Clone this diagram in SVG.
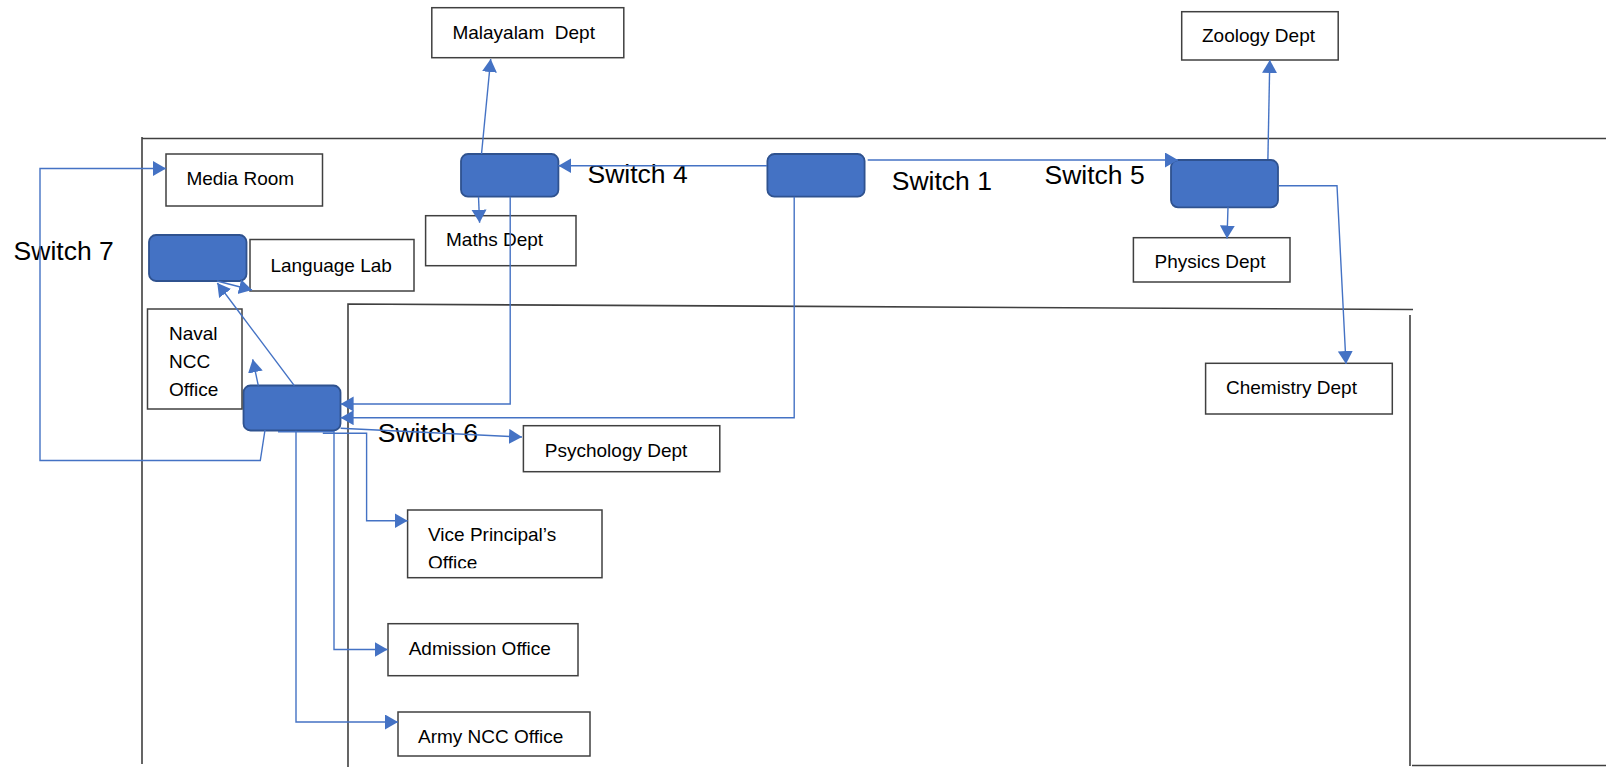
<svg xmlns="http://www.w3.org/2000/svg" width="1606" height="767" viewBox="0 0 1606 767">
<style>
.box{fill:#fff;stroke:#404040;stroke-width:1.5}
.sw{fill:#4472C4;stroke:#2F528F;stroke-width:1.8}
.wall{fill:none;stroke:#404040;stroke-width:1.6}
.lbl{font-family:"Liberation Sans",Arial,sans-serif;font-size:19px;fill:#000}
.swl{font-family:"Liberation Sans",Arial,sans-serif;font-size:26.5px;fill:#000}
.con{fill:none;stroke:#4472C4;stroke-width:1.4}
</style>
<defs>
<marker id="ah" markerUnits="userSpaceOnUse" markerWidth="14" markerHeight="16" refX="13" refY="7.5" orient="auto">
<path d="M0,0 L13,7.5 L0,15 z" fill="#4472C4"/>
</marker>
<clipPath id="vpclip"><rect x="400" y="505" width="210" height="63.3"/></clipPath>
</defs>
<rect width="1606" height="767" fill="#fff"/>
<g id="walls">
<path class="wall" d="M142,137 V764 M142,138.5 H1606"/>
<path class="wall" d="M348,767 V304 L1413,309.5"/>
<path class="wall" d="M1410,315 V766 M1412,765.5 H1606"/>
</g>
<g id="switch1"><rect class="sw" x="767.4" y="154" width="97.2" height="42.7" rx="7"/><text class="swl" x="891.8" y="190">Switch 1</text></g>
<g id="switch4"><rect class="sw" x="461" y="154" width="97.4" height="42.7" rx="7"/><text class="swl" x="587.5" y="182.7">Switch 4</text></g>
<g id="switch5"><rect class="sw" x="1171" y="160" width="107" height="47.3" rx="7"/><text class="swl" x="1044.5" y="184.3">Switch 5</text></g>
<g id="switch6"><rect class="sw" x="243.5" y="385.5" width="97" height="45" rx="7"/><text class="swl" x="377.8" y="441.7">Switch 6</text></g>
<g id="switch7"><rect class="sw" x="149" y="235" width="97.5" height="46" rx="7"/><text class="swl" x="13.6" y="260">Switch 7</text></g>
<g id="malayalam"><rect class="box" x="431.8" y="7.7" width="192" height="50"/><text class="lbl" x="452.4" y="39.3" xml:space="preserve">Malayalam  Dept</text></g>
<g id="zoology"><rect class="box" x="1181.7" y="11.7" width="156.5" height="48.3"/><text class="lbl" x="1202" y="41.7">Zoology Dept</text></g>
<g id="media"><rect class="box" x="166" y="154" width="156.5" height="52"/><text class="lbl" x="186.4" y="185">Media Room</text></g>
<g id="language"><rect class="box" x="250" y="239.5" width="164" height="51.5"/><text class="lbl" x="270.4" y="271.5">Language Lab</text></g>
<g id="maths"><rect class="box" x="425.6" y="215.7" width="150.4" height="50"/><text class="lbl" x="446" y="245.7">Maths Dept</text></g>
<g id="physics"><rect class="box" x="1133.4" y="237.7" width="156.6" height="44.3"/><text class="lbl" x="1154.6" y="268.3">Physics Dept</text></g>
<g id="naval"><rect class="box" x="147.5" y="309" width="94.5" height="100"/><text class="lbl" x="169" y="340">Naval</text><text class="lbl" x="169" y="368">NCC</text><text class="lbl" x="169" y="396">Office</text></g>
<g id="chemistry"><rect class="box" x="1205.6" y="363.3" width="186.7" height="50.7"/><text class="lbl" x="1226" y="394">Chemistry Dept</text></g>
<g id="psychology"><rect class="box" x="523.4" y="425.7" width="196.4" height="46"/><text class="lbl" x="544.8" y="457">Psychology Dept</text></g>
<g id="viceprincipal"><rect class="box" x="407.6" y="510" width="194.4" height="67.7"/><text class="lbl" x="428" y="540.5">Vice Principal’s</text><text class="lbl" x="428" y="569" clip-path="url(#vpclip)">Office</text></g>
<g id="admission"><rect class="box" x="388" y="623.7" width="190" height="52"/><text class="lbl" x="408.7" y="655">Admission Office</text></g>
<g id="army"><rect class="box" x="398" y="712" width="192" height="44"/><text class="lbl" x="418" y="742.7">Army NCC Office</text></g>
<g id="connectors">
<path class="con" marker-end="url(#ah)" d="M767,165.7 H558.4"/>
<path class="con" marker-end="url(#ah)" d="M867.7,160 H1178"/>
<path class="con" marker-end="url(#ah)" d="M481.5,154 L490.7,59"/>
<path class="con" marker-end="url(#ah)" d="M478.5,196.7 L479.6,222.7"/>
<path class="con" marker-end="url(#ah)" d="M510.2,196.7 V404 H340.6"/>
<path class="con" marker-end="url(#ah)" d="M794.2,196.7 V417.7 H340.6"/>
<path class="con" marker-end="url(#ah)" d="M1267.9,159 L1269.8,60"/>
<path class="con" marker-end="url(#ah)" d="M1228,207.3 L1227,238.5"/>
<path class="con" marker-end="url(#ah)" d="M1279,185.7 H1337 L1346,364"/>
<path class="con" marker-end="url(#ah)" d="M217,281 L252,290"/>
<path class="con" marker-end="url(#ah)" d="M294.3,385.7 L217.3,283"/>
<path class="con" marker-end="url(#ah)" d="M258.3,385.7 L252.7,359.3"/>
<path class="con" marker-end="url(#ah)" d="M265,430 L260.3,460.5 H40 V168.5 H166"/>
<path class="con" marker-end="url(#ah)" d="M340.6,428.3 L522,437"/>
<path class="con" marker-end="url(#ah)" d="M322.8,433.3 H366.6 V520.7 H407.6"/>
<path class="con" marker-end="url(#ah)" d="M278,431.7 H334 V649.5 H387.6"/>
<path class="con" marker-end="url(#ah)" d="M296,430.7 V722 H398"/>
</g>
</svg>
